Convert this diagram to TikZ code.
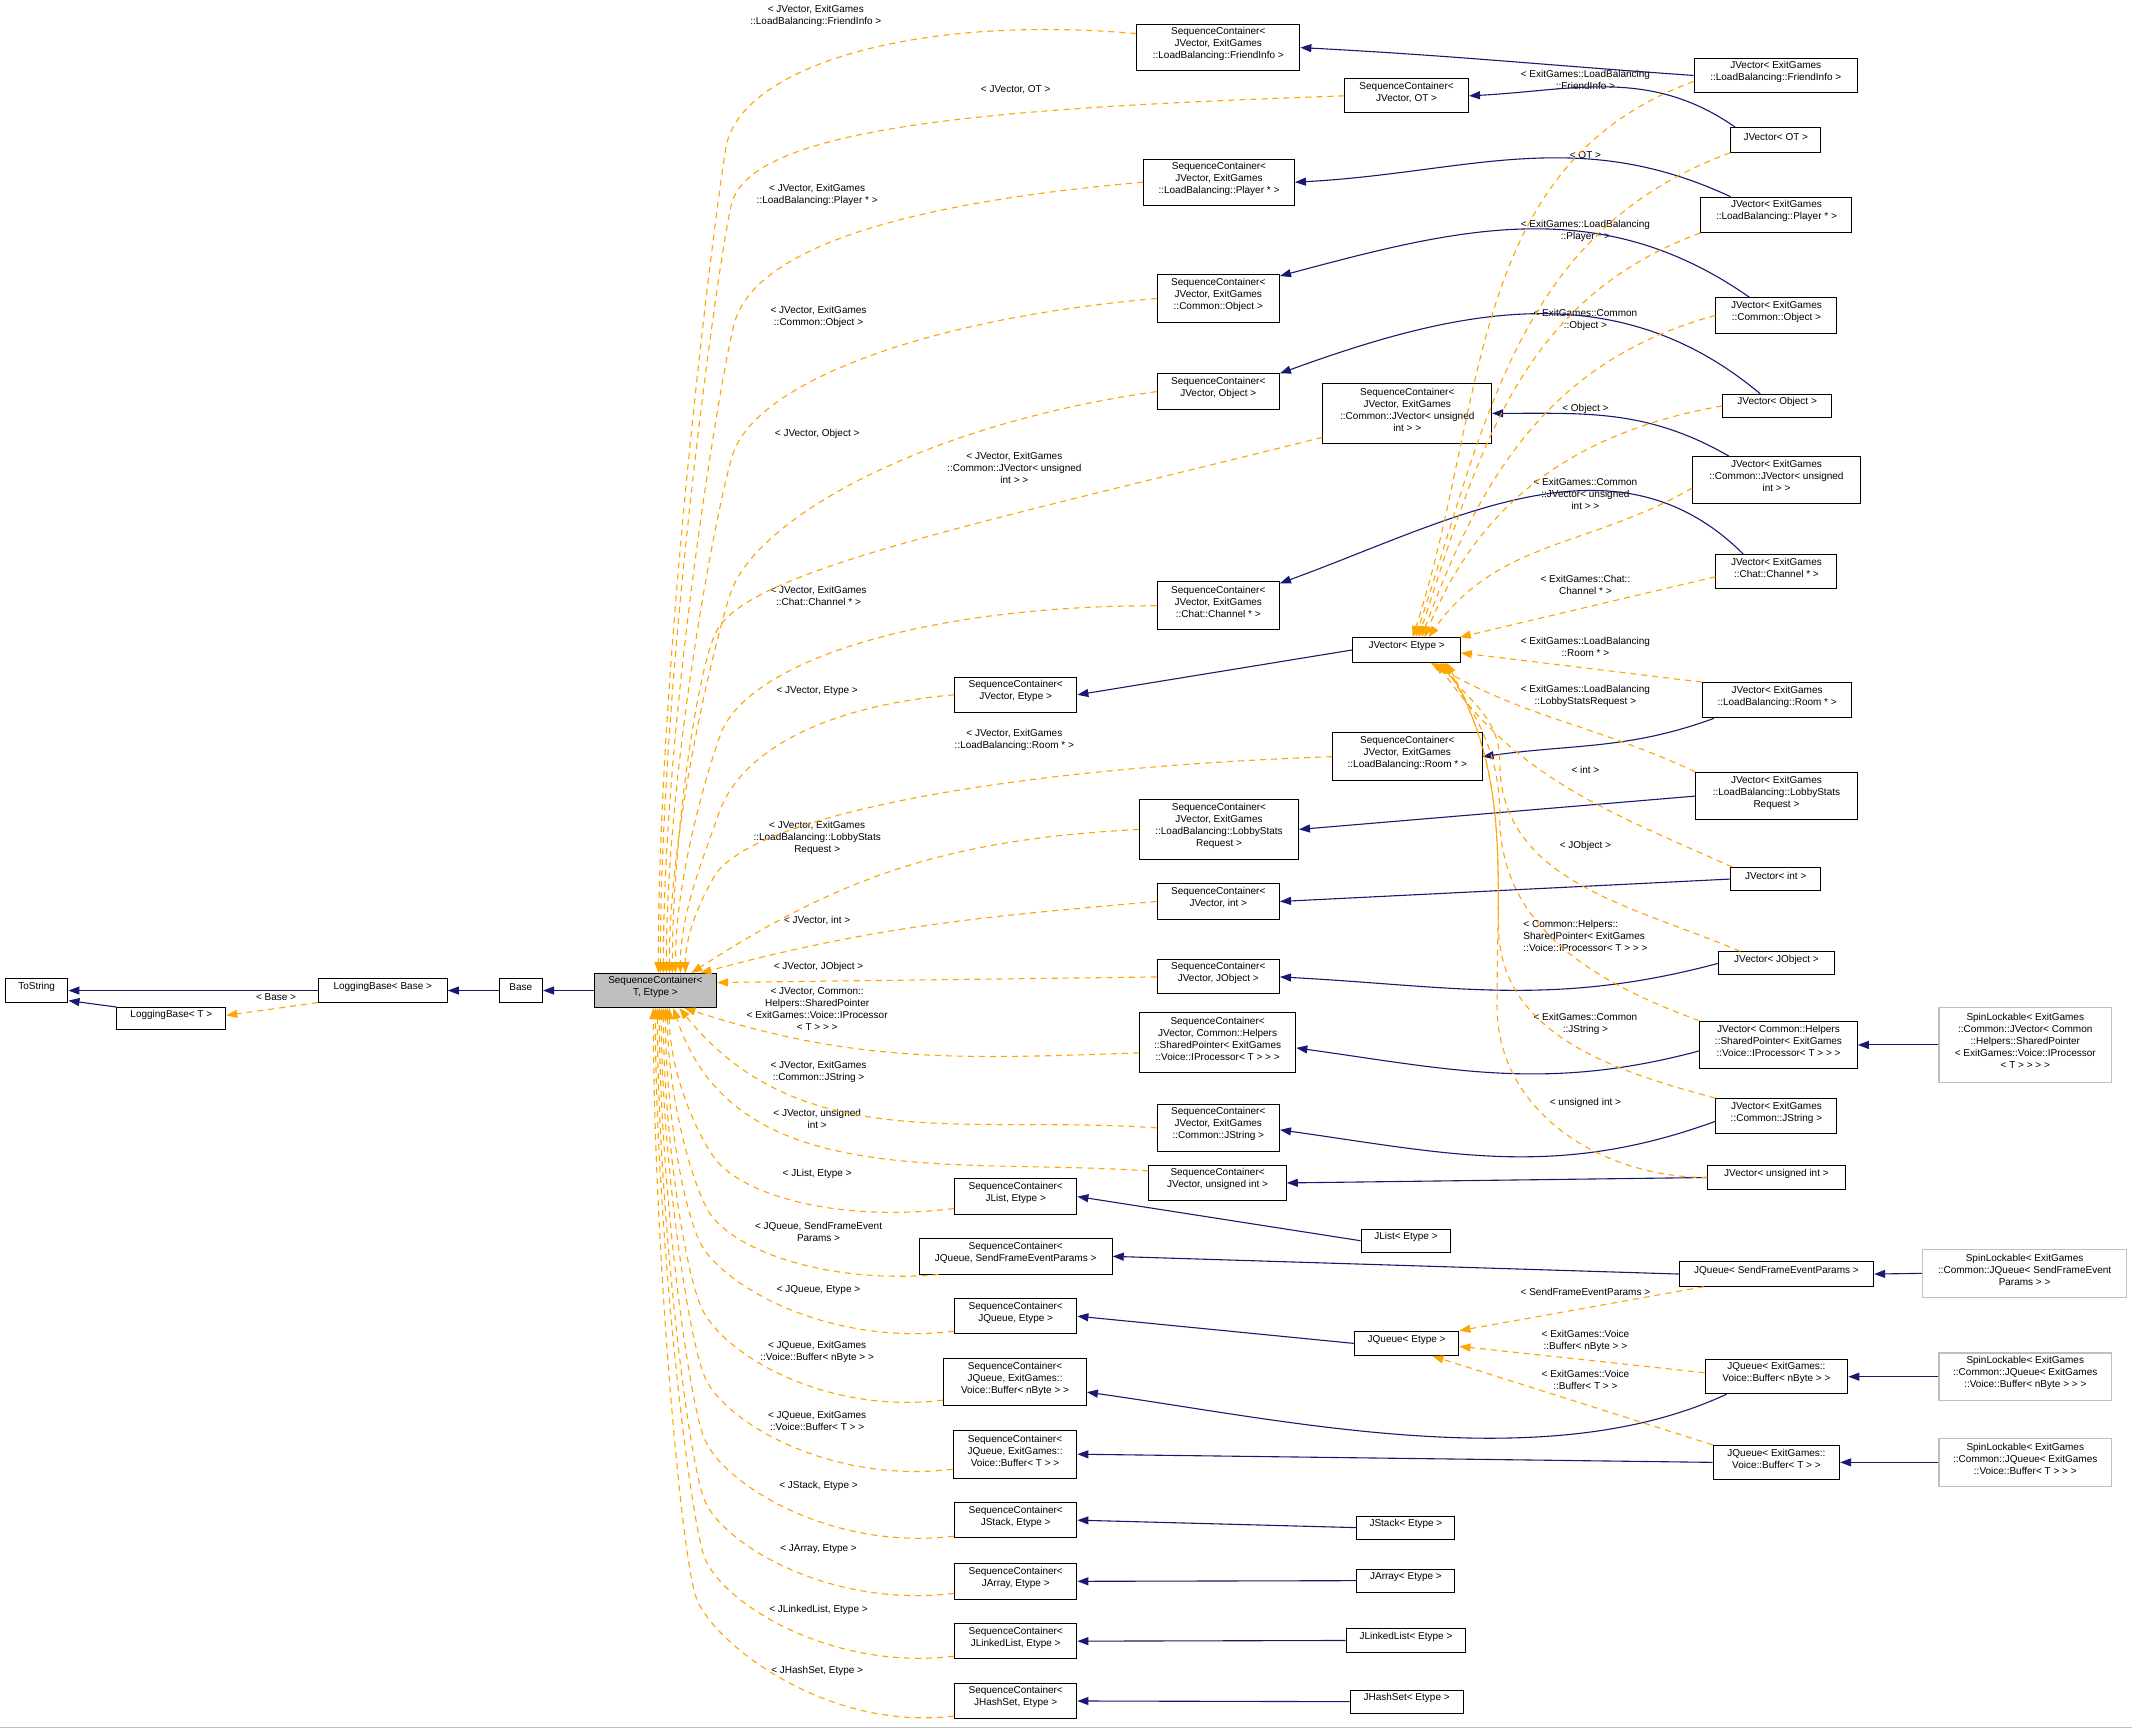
\documentclass[tikz,border=0pt]{standalone}
\usepackage{fontspec}
\setmainfont{Liberation Sans}
\usetikzlibrary{arrows.meta,fit}
\definecolor{navy}{HTML}{191970}
\definecolor{dorange}{HTML}{FFA500}
\definecolor{sgray}{HTML}{BFBFBF}
\newcommand{\mybox}[7][box]{\node[#1,fit={(#3,-#4)(#5,-#6)}] (#2) {#7};}
\newcommand{\mylbl}[4]{\node[lbl] (#1) at (#2,-#3) {#4};}
\begin{document}
\begin{tikzpicture}[x=1.3597pt,y=1.3597pt,
  font=\fontsize{10}{12}\selectfont,
  box/.style={draw=black,line width=1pt,fill=white,inner sep=0pt,align=center},
  basebox/.style={box,fill=sgray},
  spin/.style={box,draw=sgray,line width=1.3pt},
  lbl/.style={inner sep=0pt,align=center},
  ih/.style={draw=navy,line width=1.1pt,-{Triangle[length=11pt,width=8pt]}},
  tm/.style={draw=dorange,line width=1.1pt,dash pattern=on 6pt off 5pt,-{Triangle[length=11pt,width=8pt]}}]
\fill[white] (0,0) rectangle (1568,-1272);
\useasboundingbox (0,0) rectangle (1568,-1272);
\draw[sgray,line width=1pt] (0,-1270.5) -- (1568,-1270.5);

% left part
\mybox{ToS}{4}{720}{50}{737}{ToString}
\mybox{LBB}{234}{720}{329}{737}{LoggingBase< Base >}
\mybox{LBT}{86}{741}{166}{757}{LoggingBase< T >}
\mybox{Base}{367}{720}{399}{737}{Base}
\mybox[basebox]{SCT}{437}{716}{527}{741}{SequenceContainer<\\T, Etype >}

% middle column
\mybox{SCa}{836}{18}{956}{52}{SequenceContainer<\\JVector, ExitGames\\::LoadBalancing::FriendInfo >}
\mybox{SCb}{989}{58}{1080}{83}{SequenceContainer<\\JVector, OT >}
\mybox{SCc}{841}{117}{952}{151}{SequenceContainer<\\JVector, ExitGames\\::LoadBalancing::Player * >}
\mybox{SCd}{851}{202}{941}{237}{SequenceContainer<\\JVector, ExitGames\\::Common::Object >}
\mybox{SCe}{851}{275}{941}{301}{SequenceContainer<\\JVector, Object >}
\mybox{SCf}{973}{282}{1097}{326}{SequenceContainer<\\JVector, ExitGames\\::Common::JVector< unsigned\\int > >}
\mybox{SCg}{851}{428}{941}{463}{SequenceContainer<\\JVector, ExitGames\\::Chat::Channel * >}
\mybox{SCh}{702}{498}{792}{524}{SequenceContainer<\\JVector, Etype >}
\mybox{SCi}{980}{539}{1090}{574}{SequenceContainer<\\JVector, ExitGames\\::LoadBalancing::Room * >}
\mybox{SCj}{838}{588}{955}{632}{SequenceContainer<\\JVector, ExitGames\\::LoadBalancing::LobbyStats\\Request >}
\mybox{SCk}{851}{650}{941}{676}{SequenceContainer<\\JVector, int >}
\mybox{SCl}{851}{706}{941}{731}{SequenceContainer<\\JVector, JObject >}
\mybox{SCm}{838}{745}{953}{789}{SequenceContainer<\\JVector, Common::Helpers\\::SharedPointer< ExitGames\\::Voice::IProcessor< T > > >}
\mybox{SCn}{851}{812}{941}{847}{SequenceContainer<\\JVector, ExitGames\\::Common::JString >}
\mybox{SCo}{845}{857}{946}{883}{SequenceContainer<\\JVector, unsigned int >}
\mybox{SCp}{702}{867}{792}{893}{SequenceContainer<\\JList, Etype >}
\mybox{SCq}{676}{911}{818}{937}{SequenceContainer<\\JQueue, SendFrameEventParams >}
\mybox{SCr}{702}{955}{792}{981}{SequenceContainer<\\JQueue, Etype >}
\mybox{SCs}{694}{999}{799}{1034}{SequenceContainer<\\JQueue, ExitGames::\\Voice::Buffer< nByte > >}
\mybox{SCt}{701}{1052}{792}{1087}{SequenceContainer<\\JQueue, ExitGames::\\Voice::Buffer< T > >}
\mybox{SCu}{702}{1105}{792}{1131}{SequenceContainer<\\JStack, Etype >}
\mybox{SCv}{702}{1150}{792}{1176}{SequenceContainer<\\JArray, Etype >}
\mybox{SCw}{702}{1194}{792}{1220}{SequenceContainer<\\JLinkedList, Etype >}
\mybox{SCx}{702}{1238}{792}{1264}{SequenceContainer<\\JHashSet, Etype >}

% right column
\mybox{JVF}{1246}{43}{1366}{68}{JVector< ExitGames\\::LoadBalancing::FriendInfo >}
\mybox{JVOT}{1273}{94}{1339}{112}{JVector< OT >}
\mybox{JVPL}{1251}{145}{1362}{171}{JVector< ExitGames\\::LoadBalancing::Player * >}
\mybox{JVCO}{1262}{219}{1351}{245}{JVector< ExitGames\\::Common::Object >}
\mybox{JVOB}{1267}{290}{1347}{307}{JVector< Object >}
\mybox{JVJU}{1245}{336}{1368}{370}{JVector< ExitGames\\::Common::JVector< unsigned\\int > >}
\mybox{JVCH}{1262}{408}{1351}{433}{JVector< ExitGames\\::Chat::Channel * >}
\mybox{JVE}{995}{469}{1074}{487}{JVector< Etype >}
\mybox{JVRO}{1252}{502}{1362}{528}{JVector< ExitGames\\::LoadBalancing::Room * >}
\mybox{JVLS}{1247}{568}{1366}{603}{JVector< ExitGames\\::LoadBalancing::LobbyStats\\Request >}
\mybox{JVIN}{1273}{638}{1339}{655}{JVector< int >}
\mybox{JVJO}{1264}{700}{1349}{717}{JVector< JObject >}
\mybox{JVSP}{1250}{751}{1366}{786}{JVector< Common::Helpers\\::SharedPointer< ExitGames\\::Voice::IProcessor< T > > >}
\mybox{JVJS}{1262}{808}{1351}{834}{JVector< ExitGames\\::Common::JString >}
\mybox{JVUI}{1256}{857}{1357}{875}{JVector< unsigned int >}
\mybox{JL}{1001}{904}{1067}{921}{JList< Etype >}
\mybox{JQSF}{1235}{928}{1378}{946}{JQueue< SendFrameEventParams >}
\mybox{JQE}{996}{979}{1073}{997}{JQueue< Etype >}
\mybox{JQNB}{1254}{1000}{1359}{1025}{JQueue< ExitGames::\\Voice::Buffer< nByte > >}
\mybox{JQT}{1260}{1063}{1353}{1088}{JQueue< ExitGames::\\Voice::Buffer< T > >}
\mybox{JS}{998}{1115}{1070}{1132}{JStack< Etype >}
\mybox{JA}{998}{1154}{1070}{1171}{JArray< Etype >}
\mybox{JLL}{990}{1198}{1078}{1215}{JLinkedList< Etype >}
\mybox{JH}{993}{1243}{1076}{1260}{JHashSet< Etype >}
\mybox[spin]{SPa}{1426}{741}{1553}{796}{SpinLockable< ExitGames\\::Common::JVector< Common\\::Helpers::SharedPointer\\< ExitGames::Voice::IProcessor\\< T > > > >}
\mybox[spin]{SPb}{1414}{919}{1564}{954}{SpinLockable< ExitGames\\::Common::JQueue< SendFrameEvent\\Params > >}
\mybox[spin]{SPc}{1426}{995}{1553}{1030}{SpinLockable< ExitGames\\::Common::JQueue< ExitGames\\::Voice::Buffer< nByte > > >}
\mybox[spin]{SPd}{1426}{1058}{1553}{1093}{SpinLockable< ExitGames\\::Common::JQueue< ExitGames\\::Voice::Buffer< T > > >}

% left-side labels
\mylbl{la}{600}{12}{< JVector, ExitGames\\::LoadBalancing::FriendInfo >}
\mylbl{lb}{747}{66}{< JVector, OT >}
\mylbl{lc}{601}{143}{< JVector, ExitGames\\::LoadBalancing::Player * >}
\mylbl{ld}{602}{233}{< JVector, ExitGames\\::Common::Object >}
\mylbl{le}{601}{319}{< JVector, Object >}
\mylbl{lf}{746}{344}{< JVector, ExitGames\\::Common::JVector< unsigned\\int > >}
\mylbl{lg}{602}{438}{< JVector, ExitGames\\::Chat::Channel * >}
\mylbl{lh}{601}{508}{< JVector, Etype >}
\mylbl{li}{746}{544}{< JVector, ExitGames\\::LoadBalancing::Room * >}
\mylbl{lj}{601}{616}{< JVector, ExitGames\\::LoadBalancing::LobbyStats\\Request >}
\mylbl{lk}{601}{677}{< JVector, int >}
\mylbl{ll}{602}{711}{< JVector, JObject >}
\mylbl{lm}{601}{742}{< JVector, Common::\\Helpers::SharedPointer\\< ExitGames::Voice::IProcessor\\< T > > >}
\mylbl{ln}{602}{788}{< JVector, ExitGames\\::Common::JString >}
\mylbl{lo}{601}{823}{< JVector, unsigned\\int >}
\mylbl{lp}{601}{863}{< JList, Etype >}
\mylbl{lq}{602}{906}{< JQueue, SendFrameEvent\\Params >}
\mylbl{lr}{602}{949}{< JQueue, Etype >}
\mylbl{ls}{601}{994}{< JQueue, ExitGames\\::Voice::Buffer< nByte > >}
\mylbl{lt}{601}{1045}{< JQueue, ExitGames\\::Voice::Buffer< T > >}
\mylbl{lu}{602}{1093}{< JStack, Etype >}
\mylbl{lv}{602}{1139}{< JArray, Etype >}
\mylbl{lw}{602}{1184}{< JLinkedList, Etype >}
\mylbl{lx}{601}{1229}{< JHashSet, Etype >}
\mylbl{lbase}{203}{733}{< Base >}

% right-side labels
\mylbl{ra}{1166}{59}{< ExitGames::LoadBalancing\\::FriendInfo >}
\mylbl{rb}{1166}{114}{< OT >}
\mylbl{rc}{1166}{170}{< ExitGames::LoadBalancing\\::Player * >}
\mylbl{rd}{1166}{235}{< ExitGames::Common\\::Object >}
\mylbl{re}{1166}{301}{< Object >}
\mylbl{rf}{1166}{363}{< ExitGames::Common\\::JVector< unsigned\\int > >}
\mylbl{rg}{1166}{430}{< ExitGames::Chat::\\Channel * >}
\mylbl{rh}{1166}{476}{< ExitGames::LoadBalancing\\::Room * >}
\mylbl{ri}{1166}{512}{< ExitGames::LoadBalancing\\::LobbyStatsRequest >}
\mylbl{rj}{1166}{566}{< int >}
\mylbl{rk}{1166}{622}{< JObject >}
\node[lbl,align=left] (rl) at (1166,-688) {< Common::Helpers::\\SharedPointer< ExitGames\\::Voice::IProcessor< T > > >};
\mylbl{rm}{1166}{753}{< ExitGames::Common\\::JString >}
\mylbl{rn}{1166}{811}{< unsigned int >}
\mylbl{ro}{1166}{950}{< SendFrameEventParams >}
\mylbl{rp}{1166}{986}{< ExitGames::Voice\\::Buffer< nByte > >}
\mylbl{rq}{1166}{1015}{< ExitGames::Voice\\::Buffer< T > >}

% left inheritance
\draw[ih] (LBB.west) -- (ToS.east);
\draw[ih] (LBT.north west) -- ([yshift=2pt]ToS.south east);
\draw[tm] (LBB.south west) -- ([yshift=3pt]LBT.east);
\draw[ih] (Base.west) -- (LBB.east);
\draw[ih] (SCT.west) -- (Base.east);

% template instances -> SequenceContainer<T,Etype> (top)
\draw[tm] ([yshift=14pt]SCa.west) to[out=175,in=80,out distance=226pt,in distance=80pt] (534,-108) to[out=-100,in=90,out distance=50pt] ([xshift=3pt]SCT.north);
\draw[tm] (SCb.west) to[out=182,in=76,out distance=337pt,in distance=82pt] (538,-150) to[out=-104,in=90,out distance=50pt] ([xshift=5pt]SCT.north);
\draw[tm] (SCc.west) to[out=185,in=75,out distance=225pt,in distance=82pt] (540,-238) to[out=-105,in=90,out distance=50pt] ([xshift=8pt]SCT.north);
\draw[tm] (SCd.west) to[out=185,in=72,out distance=233pt,in distance=75pt] (539,-334) to[out=-108,in=90,out distance=50pt] ([xshift=11pt]SCT.north);
\draw[tm] (SCe.west) to[out=188,in=72,out distance=233pt,in distance=80pt] (537,-437) to[out=-108,in=90,out distance=45pt] ([xshift=14pt]SCT.north);
\draw[tm] ([yshift=-24pt]SCf.west) to[out=194,in=62,out distance=364pt,in distance=68pt] (527,-464) to[out=-118,in=90,out distance=40pt] ([xshift=17pt]SCT.north);
\draw[tm] (SCg.west) to[out=180,in=70,out distance=240pt,in distance=75pt] (530,-540) to[out=-110,in=90,out distance=40pt] ([xshift=20pt]SCT.north);
\draw[tm] (SCh.west) to[out=185,in=72,out distance=130pt,in distance=68pt] (528,-600) to[out=-108,in=90,out distance=30pt] ([xshift=25pt]SCT.north);
\draw[tm] (SCi.west) to[out=182,in=60,out distance=340pt,in distance=68pt] (525,-645) to[out=-120,in=90,out distance=25pt] ([xshift=30pt]SCT.north);
\draw[tm] (SCj.west) to[out=183,in=33] ([xshift=36pt]SCT.north);
\draw[tm] (SCk.west) to[out=185,in=15] ([xshift=45pt]SCT.north);
\draw[tm] (SCl.west) -- ([yshift=8pt]SCT.east);
% (bottom)
\draw[tm] ([yshift=-10pt]SCm.west) to[out=182,in=-18] ([xshift=29pt]SCT.south);
\draw[tm] (SCn.west) to[out=176,in=-51] ([xshift=24pt]SCT.south);
\draw[tm] ([yshift=12pt]SCo.west) to[out=176,in=-72] ([xshift=18pt]SCT.south);
\draw[tm] ([yshift=-12pt]SCp.west) to[out=187,in=-55,out distance=120pt,in distance=45pt] (525,-851) to[out=125,in=-90,out distance=35pt] ([xshift=14pt]SCT.south);
\draw[tm] ([xshift=20pt]SCq.south west) to[out=185,in=-62,out distance=116pt,in distance=45pt] (520,-889) to[out=118,in=-90,out distance=40pt] ([xshift=12pt]SCT.south);
\draw[tm] ([yshift=-15pt]SCr.west) to[out=187,in=-66,out distance=128pt,in distance=48pt] (514,-912) to[out=114,in=-90,out distance=45pt] ([xshift=10pt]SCT.south);
\draw[tm] ([yshift=-18pt]SCs.west) to[out=187,in=-66,out distance=122pt,in distance=48pt] (516,-962) to[out=114,in=-90,out distance=45pt] ([xshift=8pt]SCT.south);
\draw[tm] ([yshift=-15pt]SCt.west) to[out=187,in=-68,out distance=125pt,in distance=48pt] (518,-1012) to[out=112,in=-90,out distance=45pt] ([xshift=6pt]SCT.south);
\draw[tm] ([yshift=-16pt]SCu.west) to[out=187,in=-68,out distance=125pt,in distance=48pt] (518,-1058) to[out=112,in=-90,out distance=45pt] ([xshift=4pt]SCT.south);
\draw[tm] ([yshift=-12pt]SCv.west) to[out=187,in=-68,out distance=125pt,in distance=48pt] (518,-1103) to[out=112,in=-90,out distance=45pt] ([xshift=2pt]SCT.south);
\draw[tm] ([yshift=-15pt]SCw.west) to[out=187,in=-70,out distance=125pt,in distance=48pt] (518,-1145) to[out=110,in=-90,out distance=45pt] ([xshift=0pt]SCT.south);
\draw[tm] ([yshift=-15pt]SCx.west) to[out=187,in=-70,out distance=129pt,in distance=48pt] (512,-1175) to[out=110,in=-90,out distance=45pt] ([xshift=-2pt]SCT.south);

% right -> middle inheritance
\draw[ih] (JVF.west) to[out=176,in=-3] (SCa.east);
\draw[ih] ([xshift=5pt]JVOT.north west) to[out=145,in=3] (SCb.east);
\draw[ih] ([xshift=30pt]JVPL.north west) to[out=155,in=3] (SCc.east);
\draw[ih] ([xshift=34pt]JVCO.north west) to[out=145,in=15] (SCd.20);
\draw[ih] ([xshift=38pt]JVOB.north west) to[out=140,in=20] (SCe.north east);
\draw[ih] ([xshift=37pt]JVJU.north west) to[out=150,in=0] (SCf.east);
\draw[ih] ([xshift=28pt]JVCH.north west) to[out=135,in=20] (SCg.20);
\draw[ih] (JVE.west) -- (SCh.east);
\draw[ih] ([xshift=12pt]JVRO.south west) to[out=200,in=8] (SCi.east);
\draw[ih] (JVLS.west) -- (SCj.east);
\draw[ih] (JVIN.west) -- (SCk.east);
\draw[ih] (JVJO.west) to[out=195,in=-3] (SCl.east);
\draw[ih] ([yshift=-6pt]JVSP.west) to[out=195,in=-8] ([yshift=-5pt]SCm.east);
\draw[ih] ([yshift=-5pt]JVJS.west) to[out=200,in=-8] ([yshift=-2pt]SCn.east);
\draw[ih] (JVUI.west) -- (SCo.east);
\draw[ih] (JL.west) -- (SCp.east);
\draw[ih] (JQSF.west) -- (SCq.east);
\draw[ih] (JQE.west) -- (SCr.east);
\draw[ih] ([xshift=22pt]JQNB.south west) to[out=205,in=-8,looseness=0.8] ([yshift=-10pt]SCs.east);
\draw[ih] (JQT.west) -- (SCt.east);
\draw[ih] (JS.west) -- (SCu.east);
\draw[ih] (JA.west) -- (SCv.east);
\draw[ih] (JLL.west) -- (SCw.east);
\draw[ih] (JH.west) -- (SCx.east);
\draw[ih] (SPa.west) -- (JVSP.east);
\draw[ih] (SPb.west) -- (JQSF.east);
\draw[ih] (SPc.west) -- (JQNB.east);
\draw[ih] (SPd.west) -- (JQT.east);

% instances of JVector<Etype>
\draw[tm] ([yshift=-6pt]JVF.west) to[out=200,in=72] ([xshift=6pt]JVE.north);
\draw[tm] (JVOT.south west) to[out=200,in=72] ([xshift=9pt]JVE.north);
\draw[tm] (JVPL.south west) to[out=200,in=72] ([xshift=12pt]JVE.north);
\draw[tm] (JVCO.west) to[out=195,in=70] ([xshift=15pt]JVE.north);
\draw[tm] (JVOB.west) to[out=190,in=68] ([xshift=18pt]JVE.north);
\draw[tm] ([yshift=-8pt]JVJU.west) to[out=210,in=55] ([xshift=22pt]JVE.north);
\draw[tm] ([yshift=-5pt]JVCH.west) -- ([xshift=-1pt]JVE.north east);
\draw[tm] (JVRO.north west) -- ([yshift=-3pt]JVE.east);
\draw[tm] (JVLS.north west) to[out=155,in=-30] ([xshift=24pt]JVE.south);
\draw[tm] ([xshift=2pt]JVIN.north west) to[out=156,in=-55] ([xshift=30pt]JVE.south);
\draw[tm] ([xshift=22pt]JVJO.north west) to[out=157,in=-90] (1103,-560) to[out=90,in=-55] ([xshift=34pt]JVE.south);
\draw[tm] (JVSP.north west) to[out=160,in=-90] (1103,-600) to[out=90,in=-58] ([xshift=36pt]JVE.south);
\draw[tm] (JVJS.north west) to[out=165,in=-90] (1102,-680) to[out=90,in=-60] ([xshift=38pt]JVE.south);
\draw[tm] (JVUI.west) to[out=180,in=-90] (1101,-740) to[out=90,in=-62] ([xshift=40pt]JVE.south);

% instances of JQueue<Etype>
\draw[tm] ([xshift=25pt]JQSF.south west) -- (JQE.north east);
\draw[tm] ([yshift=4pt]JQNB.west) -- ([yshift=-3pt]JQE.east);
\draw[tm] (JQT.north west) -- ([xshift=26pt]JQE.south);
\end{tikzpicture}
\end{document}
